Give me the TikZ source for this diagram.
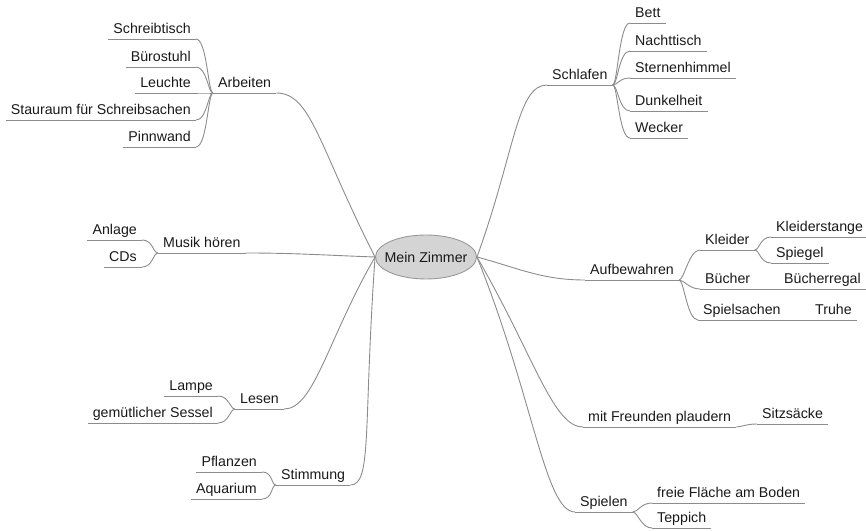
\documentclass[tikz,border=0pt]{standalone}
\usepackage{fontspec}
\setmainfont{Liberation Sans}
\usetikzlibrary{shapes.geometric}

\begin{document}
\begin{tikzpicture}[
    x=1pt, y=1pt,
    every node/.style={text=black!90, font=\fontsize{14.2}{16}\selectfont},
    topic/.style={inner xsep=5pt, inner ysep=2pt, text height=10pt, text depth=3pt},
    branch/.style={draw=black!45, line width=0.9pt},
    twigl/.style={out=180, in=0, out distance=5pt, in distance=11pt},
    twigr/.style={out=0, in=180, out distance=5pt, in distance=11pt}
]
    \useasboundingbox (0,0) rectangle (866,530);

    \node[ellipse, draw=black!40, fill=black!17, line width=0.9pt,
          minimum width=101pt, minimum height=44pt, inner xsep=-12pt, inner ysep=0pt] (zim) at (426,273) {Mein Zimmer};

    % left side
    \node[topic, anchor=south west] (arb) at (213,437) {Arbeiten};
    \node[topic, anchor=south east] (schreib) at (196,491) {Schreibtisch};
    \node[topic, anchor=south east] (stuhl) at (196,463) {Bürostuhl};
    \node[topic, anchor=south east] (leucht) at (196,437) {Leuchte};
    \node[topic, anchor=south east] (stau) at (196,410) {Stauraum für Schreibsachen};
    \node[topic, anchor=south east] (pinn) at (196,383) {Pinnwand};

    \node[topic, anchor=south west] (musik) at (158,277) {Musik hören};
    \node[topic, anchor=south east] (anl) at (142,290) {Anlage};
    \node[topic, anchor=south east] (cds) at (142,263) {CDs};

    \node[topic, anchor=south west] (les) at (235,121) {Lesen};
    \node[topic, anchor=south east] (lamp) at (218,134) {Lampe};
    \node[topic, anchor=south east] (sessel) at (218,107) {gemütlicher Sessel};

    \node[topic, anchor=south west] (stim) at (276,45) {Stimmung};
    \node[topic, anchor=south east] (pflanz) at (262,58) {Pflanzen};
    \node[topic, anchor=south east] (aqua) at (262,31) {Aquarium};

    % right side
    \node[topic, anchor=south west] (schlaf) at (547,445) {Schlafen};
    \node[topic, anchor=south west] (bett) at (630,507) {Bett};
    \node[topic, anchor=south west] (nacht) at (630,479) {Nachttisch};
    \node[topic, anchor=south west] (stern) at (630,452) {Sternenhimmel};
    \node[topic, anchor=south west] (dunkel) at (630,419) {Dunkelheit};
    \node[topic, anchor=south west] (weck) at (630,392) {Wecker};

    \node[topic, anchor=south west] (aufb) at (585,250) {Aufbewahren};
    \node[topic, anchor=south west] (kleid) at (700,280) {Kleider};
    \node[topic, anchor=south west] (kstange) at (771,293) {Kleiderstange};
    \node[topic, anchor=south west] (spieg) at (771,267) {Spiegel};
    \node[topic, anchor=south west] (buch) at (700,241) {Bücher};
    \node[topic, anchor=south west] (bregal) at (779,241) {Bücherregal};
    \node[topic, anchor=south west] (spiel) at (698,210) {Spielsachen};
    \node[topic, anchor=south west] (truhe) at (810,210) {Truhe};

    \node[topic, anchor=south west] (freunde) at (583,103) {mit Freunden plaudern};
    \node[topic, anchor=south west] (sitz) at (757,106) {Sitzsäcke};

    \node[topic, anchor=south west] (spielen) at (575,18) {Spielen};
    \node[topic, anchor=south west] (flaeche) at (652,27) {freie Fläche am Boden};
    \node[topic, anchor=south west] (tepp) at (652,2) {Teppich};

    % underlines
    \foreach \n in {arb,schreib,stuhl,leucht,stau,pinn,musik,anl,cds,les,lamp,sessel,
                    stim,pflanz,aqua,schlaf,bett,nacht,stern,dunkel,weck,aufb,kleid,
                    kstange,spieg,buch,bregal,spiel,truhe,freunde,sitz,spielen,flaeche,tepp}
        \draw[branch] (\n.south west) -- (\n.south east);

    % main branches
    \draw[branch] (zim.west) to[out=117, in=0, out distance=125pt, in distance=35pt] (arb.south east);
    \draw[branch] (zim.west) to[out=178, in=0] (musik.south east);
    \draw[branch] (zim.west) to[out=240, in=0, out distance=95pt, in distance=30pt] (les.south east);
    \draw[branch] (zim.west) to[out=266, in=0, out distance=170pt, in distance=22pt] (stim.south east);
    \draw[branch] (zim.east) to[out=70, in=180, out distance=110pt, in distance=30pt] (schlaf.south west);
    \draw[branch] (zim.east) to[out=-15, in=180] (aufb.south west);
    \draw[branch] (zim.east) to[out=-60, in=180, out distance=115pt, in distance=30pt] (freunde.south west);
    \draw[branch] (zim.east) to[out=-68, in=180, out distance=150pt, in distance=30pt] (spielen.south west);

    % sub branches
    \foreach \n in {schreib,stuhl,leucht,stau,pinn}
        \draw[branch] (arb.south west) to[twigl] (\n.south east);
    \foreach \n in {anl,cds}
        \draw[branch] (musik.south west) to[twigl] (\n.south east);
    \foreach \n in {lamp,sessel}
        \draw[branch] (les.south west) to[twigl] (\n.south east);
    \foreach \n in {pflanz,aqua}
        \draw[branch] (stim.south west) to[twigl] (\n.south east);
    \foreach \n in {bett,nacht,stern,dunkel,weck}
        \draw[branch] (schlaf.south east) to[twigr] (\n.south west);
    \foreach \n in {kleid,buch,spiel}
        \draw[branch] (aufb.south east) to[twigr] (\n.south west);
    \foreach \n in {kstange,spieg}
        \draw[branch] (kleid.south east) to[twigr] (\n.south west);
    \foreach \n in {flaeche,tepp}
        \draw[branch] (spielen.south east) to[twigr] (\n.south west);
    \draw[branch] (buch.south east) -- (bregal.south west);
    \draw[branch] (spiel.south east) -- (truhe.south west);
    \draw[branch] (freunde.south east) to[twigr] (sitz.south west);
\end{tikzpicture}
\end{document}
